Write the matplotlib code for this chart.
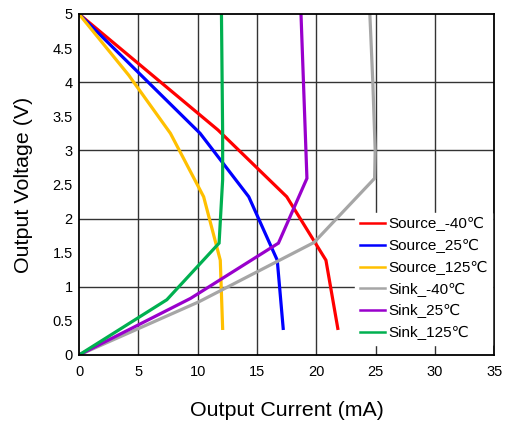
import matplotlib
matplotlib.use("Agg")
import matplotlib.pyplot as plt

plt.rcParams['font.family'] = ['Liberation Sans', 'DejaVu Sans']

# Source curves (current in mA, voltage in V)
src_m40_i = [0, 11.7, 17.5, 20.8, 21.8]
src_m40_v = [5, 3.3, 2.32, 1.39, 0.39]
src_25_i = [0, 10.2, 14.3, 16.7, 17.2]
src_25_v = [5, 3.25, 2.32, 1.39, 0.39]
src_125_i = [0, 4.2, 7.7, 10.5, 11.9, 12.1]
src_125_v = [5, 4.1, 3.25, 2.32, 1.39, 0.39]

# Sink curves
snk_m40_i = [0, 10.1, 19.8, 24.9, 24.95, 24.75, 24.5]
snk_m40_v = [0, 0.78, 1.65, 2.59, 3.0, 4.0, 5]
snk_25_i = [0, 9.4, 16.8, 19.2, 18.7]
snk_25_v = [0, 0.83, 1.64, 2.59, 5]
snk_125_i = [0, 7.4, 11.8, 12.1, 12.1, 12.0]
snk_125_v = [0, 0.81, 1.64, 2.57, 3.25, 5]

series = [
    (src_m40_i, src_m40_v, 'Source_-40℃', '#FF0000'),
    (src_25_i, src_25_v, 'Source_25℃', '#0000FF'),
    (src_125_i, src_125_v, 'Source_125℃', '#FFC000'),
    (snk_m40_i, snk_m40_v, 'Sink_-40℃', '#A6A6A6'),
    (snk_25_i, snk_25_v, 'Sink_25℃', '#9900CC'),
    (snk_125_i, snk_125_v, 'Sink_125℃', '#00B050'),
]

fig = plt.figure(figsize=(5.11, 4.28), dpi=100)
ax = fig.add_axes([0.1546, 0.1706, 0.8131, 0.7967])

for i, v, lab, col in series:
    ax.plot(i, v, color=col, lw=2.3, label=lab, solid_joinstyle='miter')

ax.set_xlim(0, 35)
ax.set_ylim(0, 5)
ax.set_xticks(range(0, 36, 5))
ax.set_yticks([k * 0.5 for k in range(11)])
ax.set_yticklabels(['0', '0.5', '1', '1.5', '2', '2.5', '3', '3.5', '4', '4.5', '5'])
ax.tick_params(length=0, labelsize=10.5)
ax.tick_params(axis='x', pad=7)
ax.tick_params(axis='y', pad=4.5)

# grid: every 5 mA and every 1 V
for x in range(5, 35, 5):
    ax.axvline(x, color='#333333', lw=1, zorder=0.5)
for y in range(1, 5):
    ax.axhline(y, color='#333333', lw=1, zorder=0.5)

for s in ax.spines.values():
    s.set_linewidth(1.3)
    s.set_color('black')

ax.set_xlabel('Output Current (mA)', fontsize=15.4, labelpad=16)
ax.set_ylabel('Output Voltage (V)', fontsize=15.4, labelpad=14)

leg = ax.legend(loc='lower right', bbox_to_anchor=(0.995, 0.03), fontsize=11,
                frameon=True, fancybox=False, edgecolor='white', framealpha=1,
                handlelength=1.6, handletextpad=0.25, labelspacing=0.5,
                borderpad=0.3, borderaxespad=0)
for h in leg.get_lines():
    h.set_linewidth(1.8)

fig.savefig('out.png', dpi=100)
